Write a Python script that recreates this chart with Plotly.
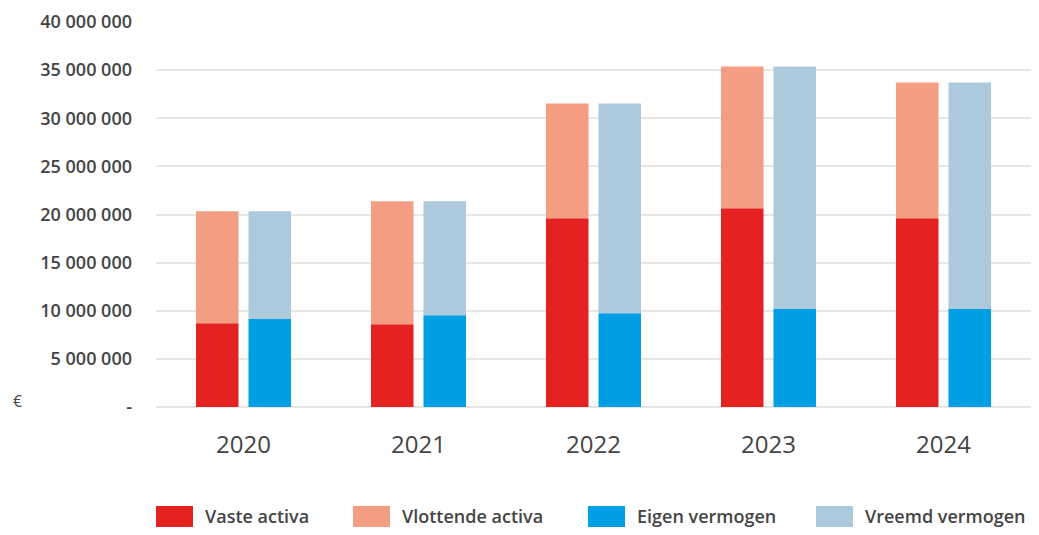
import plotly.graph_objects as go

years = ["2020", "2021", "2022", "2023", "2024"]
vaste_activa = [8.71e6, 8.61e6, 19.6e6, 20.64e6, 19.6e6]
vlottende_activa = [11.62e6, 12.76e6, 11.94e6, 14.73e6, 14.11e6]
eigen_vermogen = [9.13e6, 9.54e6, 9.75e6, 10.17e6, 10.17e6]
vreemd_vermogen = [11.2e6, 11.83e6, 21.79e6, 25.2e6, 23.54e6]

y_ticks = [0, 5e6, 10e6, 15e6, 20e6, 25e6, 30e6, 35e6, 40e6]
y_labels = ["-", "5 000 000", "10 000 000", "15 000 000", "20 000 000",
            "25 000 000", "30 000 000", "35 000 000", "40 000 000"]

series = ["Vaste activa", "Vlottende activa", "Eigen vermogen", "Vreemd vermogen"]
colors = ["#E42222", "#F39E82", "#009FE3", "#ADC9DC"]

# the page body has an 8px margin; keep the figure inside the window
OFF = 8
W, H = 1039 - 2 * OFF, 535 - 2 * OFF
L, T = 156 - OFF, 22 - OFF
R = 0
B = H - (407 - OFF)
PW, PH = W - L - R, H - T - B


# page pixel -> paper coordinate
def px(x):
    return (x - OFF - L) / PW


def py(y):
    return (H - B - (y - OFF)) / PH


fig = go.Figure()
fig.add_bar(x=years, y=vaste_activa, name=series[0], offsetgroup="a",
            marker_color=colors[0])
fig.add_bar(x=years, y=vlottende_activa, base=vaste_activa, name=series[1],
            offsetgroup="a", marker_color=colors[1])
fig.add_bar(x=years, y=eigen_vermogen, name=series[2], offsetgroup="b",
            marker_color=colors[2])
fig.add_bar(x=years, y=vreemd_vermogen, base=eigen_vermogen, name=series[3],
            offsetgroup="b", marker_color=colors[3])
fig.update_traces(marker_line_width=0, hoverinfo="x+y+name")

# legend: wide swatches + labels
legend_x = [156, 353, 588, 816]
shapes = []
annotations = []
for name, col, lx in zip(series, colors, legend_x):
    shapes.append(dict(type="rect", xref="paper", yref="paper",
                       x0=px(lx), x1=px(lx + 37), y0=py(527), y1=py(506),
                       fillcolor=col, line_width=0, layer="above"))
    annotations.append(dict(text=name, xref="paper", yref="paper",
                            x=px(lx + 47), y=py(516), xanchor="left", yanchor="middle",
                            showarrow=False,
                            font=dict(size=18, weight=600, color="#444444")))
annotations.append(dict(text="€", xref="paper", yref="paper", x=px(17), y=py(401),
                        xanchor="center", yanchor="middle", showarrow=False,
                        font=dict(size=16, color="#444444")))

fig.update_layout(
    width=W, height=H,
    margin=dict(l=L, r=R, t=T, b=B),
    barmode="group", bargap=0.4, bargroupgap=0.19,
    plot_bgcolor="white", paper_bgcolor="white",
    font=dict(family="Open Sans", color="#444444"),
    showlegend=False,
    shapes=shapes,
    annotations=annotations,
)

fig.update_yaxes(range=[0, 40e6], tickvals=y_ticks, ticktext=y_labels,
                 showgrid=True, gridcolor="#E6E6E6", gridwidth=1.5,
                 zeroline=True, zerolinecolor="#E6E6E6", zerolinewidth=1.5,
                 tickfont=dict(size=18, weight=600, color="#444444"),
                 ticks="", ticklabelstandoff=23, automargin=False, fixedrange=True)
fig.update_xaxes(tickfont=dict(size=24, color="#444444"), ticks="",
                 ticklabelstandoff=21, showline=False, automargin=False,
                 fixedrange=True)

fig.write_html("out.html")
